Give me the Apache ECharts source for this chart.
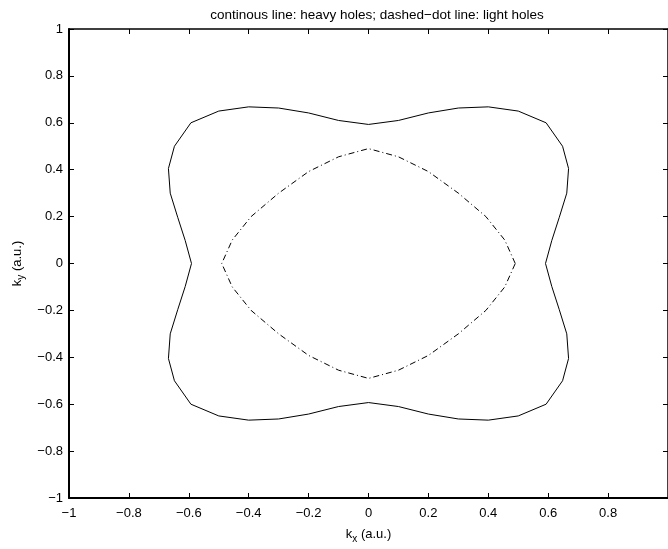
<!DOCTYPE html>
<html>
<head>
<meta charset="utf-8">
<script src="https://cdn.jsdelivr.net/npm/echarts@6/dist/echarts.min.js"></script>
<style>
html,body{margin:0;padding:0;background:#fff;}
#chart{width:668px;height:549px;}
</style>
</head>
<body>
<div id="chart"></div>
<script>
// ---- data ----
var titleText = 'continous line: heavy holes; dashed\u2212dot line: light holes';
var xTicks = [-1, -0.8, -0.6, -0.4, -0.2, 0, 0.2, 0.4, 0.6, 0.8, 1];
var xTickLabels = ['\u22121', '\u22120.8', '\u22120.6', '\u22120.4', '\u22120.2', '0', '0.2', '0.4', '0.6', '0.8', '1'];
var yTicks = [-1, -0.8, -0.6, -0.4, -0.2, 0, 0.2, 0.4, 0.6, 0.8, 1];
var yTickLabels = ['\u22121', '\u22120.8', '\u22120.6', '\u22120.4', '\u22120.2', '0', '0.2', '0.4', '0.6', '0.8', '1'];

// heavy holes (continuous line), closed contour
var heavyKx = [0.591, 0.612, 0.637, 0.662, 0.668, 0.648, 0.593, 0.50, 0.40, 0.30, 0.20, 0.10, 0,
  -0.10, -0.20, -0.30, -0.40, -0.50, -0.593, -0.648, -0.668, -0.662, -0.637, -0.612, -0.591,
  -0.612, -0.637, -0.662, -0.668, -0.648, -0.593, -0.50, -0.40, -0.30, -0.20, -0.10, 0,
  0.10, 0.20, 0.30, 0.40, 0.50, 0.593, 0.648, 0.668, 0.662, 0.637, 0.612, 0.591];
var heavyKy = [0, 0.098, 0.197, 0.300, 0.405, 0.500, 0.600, 0.650, 0.668, 0.663, 0.642, 0.610, 0.593,
  0.610, 0.642, 0.663, 0.668, 0.650, 0.600, 0.500, 0.405, 0.300, 0.197, 0.098, 0,
  -0.098, -0.197, -0.300, -0.405, -0.500, -0.600, -0.650, -0.668, -0.663, -0.642, -0.610, -0.593,
  -0.610, -0.642, -0.663, -0.668, -0.650, -0.600, -0.500, -0.405, -0.300, -0.197, -0.098, 0];

// light holes (dash-dot line), closed contour
var lightKx = [0.490, 0.455, 0.392, 0.300, 0.200, 0.100, 0,
  -0.100, -0.200, -0.300, -0.392, -0.455, -0.490,
  -0.455, -0.392, -0.300, -0.200, -0.100, 0,
  0.100, 0.200, 0.300, 0.392, 0.455, 0.490];
var lightKy = [0, 0.100, 0.200, 0.300, 0.392, 0.455, 0.490,
  0.455, 0.392, 0.300, 0.200, 0.100, 0,
  -0.100, -0.200, -0.300, -0.392, -0.455, -0.490,
  -0.455, -0.392, -0.300, -0.200, -0.100, 0];

// ---- chart ----
function pairs(xs, ys) { return xs.map(function (x, i) { return [x, ys[i]]; }); }
function fmt(ticks, labels) {
  return function (v) {
    for (var i = 0; i < ticks.length; i++) if (Math.abs(ticks[i] - v) < 1e-6) return labels[i];
    return '';
  };
}
var FONT = '"Liberation Sans", Arial, Helvetica, sans-serif';
var tickStyle = { show: true, inside: true, length: 5, lineStyle: { color: '#000', width: 1 } };

var chart = echarts.init(document.getElementById('chart'), null, { renderer: 'canvas' });
chart.setOption({
  animation: false,
  backgroundColor: '#fff',
  title: {
    text: titleText,
    left: 372, top: 3, textAlign: 'center',
    textStyle: { fontFamily: FONT, fontSize: 13.5, fontWeight: 'normal', color: '#000' }
  },
  grid: { left: 69, top: 29, width: 602, height: 475, containLabel: false },
  xAxis: [{
    type: 'value', position: 'bottom', min: -1, max: 1, interval: 0.2,
    axisLine: { show: true, onZero: false, lineStyle: { color: '#000', width: 2 } },
    axisTick: tickStyle,
    splitLine: { show: false },
    axisLabel: { show: true, showMaxLabel: false, margin: 9, fontFamily: FONT, fontSize: 13, color: '#000', formatter: fmt(xTicks, xTickLabels) },
    name: '{a|k}{b|x}{a| (a.u.)}', nameLocation: 'middle', nameGap: 27,
    nameTextStyle: {
      fontFamily: FONT, color: '#000',
      rich: {
        a: { fontFamily: FONT, fontSize: 13, color: '#000', lineHeight: 16 },
        b: { fontFamily: FONT, fontSize: 10, color: '#000', padding: [9, 0, 0, 0] }
      }
    }
  }, {
    type: 'value', position: 'top', min: -1, max: 1, interval: 0.2,
    axisLine: { show: true, onZero: false, lineStyle: { color: '#000', width: 1.5 } },
    axisTick: tickStyle,
    splitLine: { show: false },
    axisLabel: { show: false }
  }],
  yAxis: [{
    type: 'value', position: 'left', min: -1, max: 1, interval: 0.2,
    axisLine: { show: true, onZero: false, lineStyle: { color: '#000', width: 2 } },
    axisTick: tickStyle,
    splitLine: { show: false },
    axisLabel: { show: true, margin: 6, fontFamily: FONT, fontSize: 13, color: '#000', formatter: fmt(yTicks, yTickLabels) },
    name: '{a|k}{b|y}{a| (a.u.)}', nameLocation: 'middle', nameGap: 42, nameRotate: 90,
    nameTextStyle: {
      fontFamily: FONT, color: '#000',
      rich: {
        a: { fontFamily: FONT, fontSize: 13, color: '#000', lineHeight: 16 },
        b: { fontFamily: FONT, fontSize: 10, color: '#000', padding: [9, 0, 0, 0] }
      }
    }
  }, {
    type: 'value', position: 'right', min: -1, max: 1, interval: 0.2,
    axisLine: { show: true, onZero: false, lineStyle: { color: '#000', width: 1.5 } },
    axisTick: tickStyle,
    splitLine: { show: false },
    axisLabel: { show: false }
  }],
  series: [{
    name: 'heavy holes', type: 'line', xAxisIndex: 0, yAxisIndex: 0,
    data: pairs(heavyKx, heavyKy),
    showSymbol: false, symbol: 'none', smooth: false,
    lineStyle: { color: '#000', width: 1 }
  }, {
    name: 'light holes', type: 'line', xAxisIndex: 0, yAxisIndex: 0,
    data: pairs(lightKx, lightKy),
    showSymbol: false, symbol: 'none', smooth: false,
    lineStyle: { color: '#000', width: 1, type: [6, 3, 1, 3] }
  }]
});
</script>
</body>
</html>
